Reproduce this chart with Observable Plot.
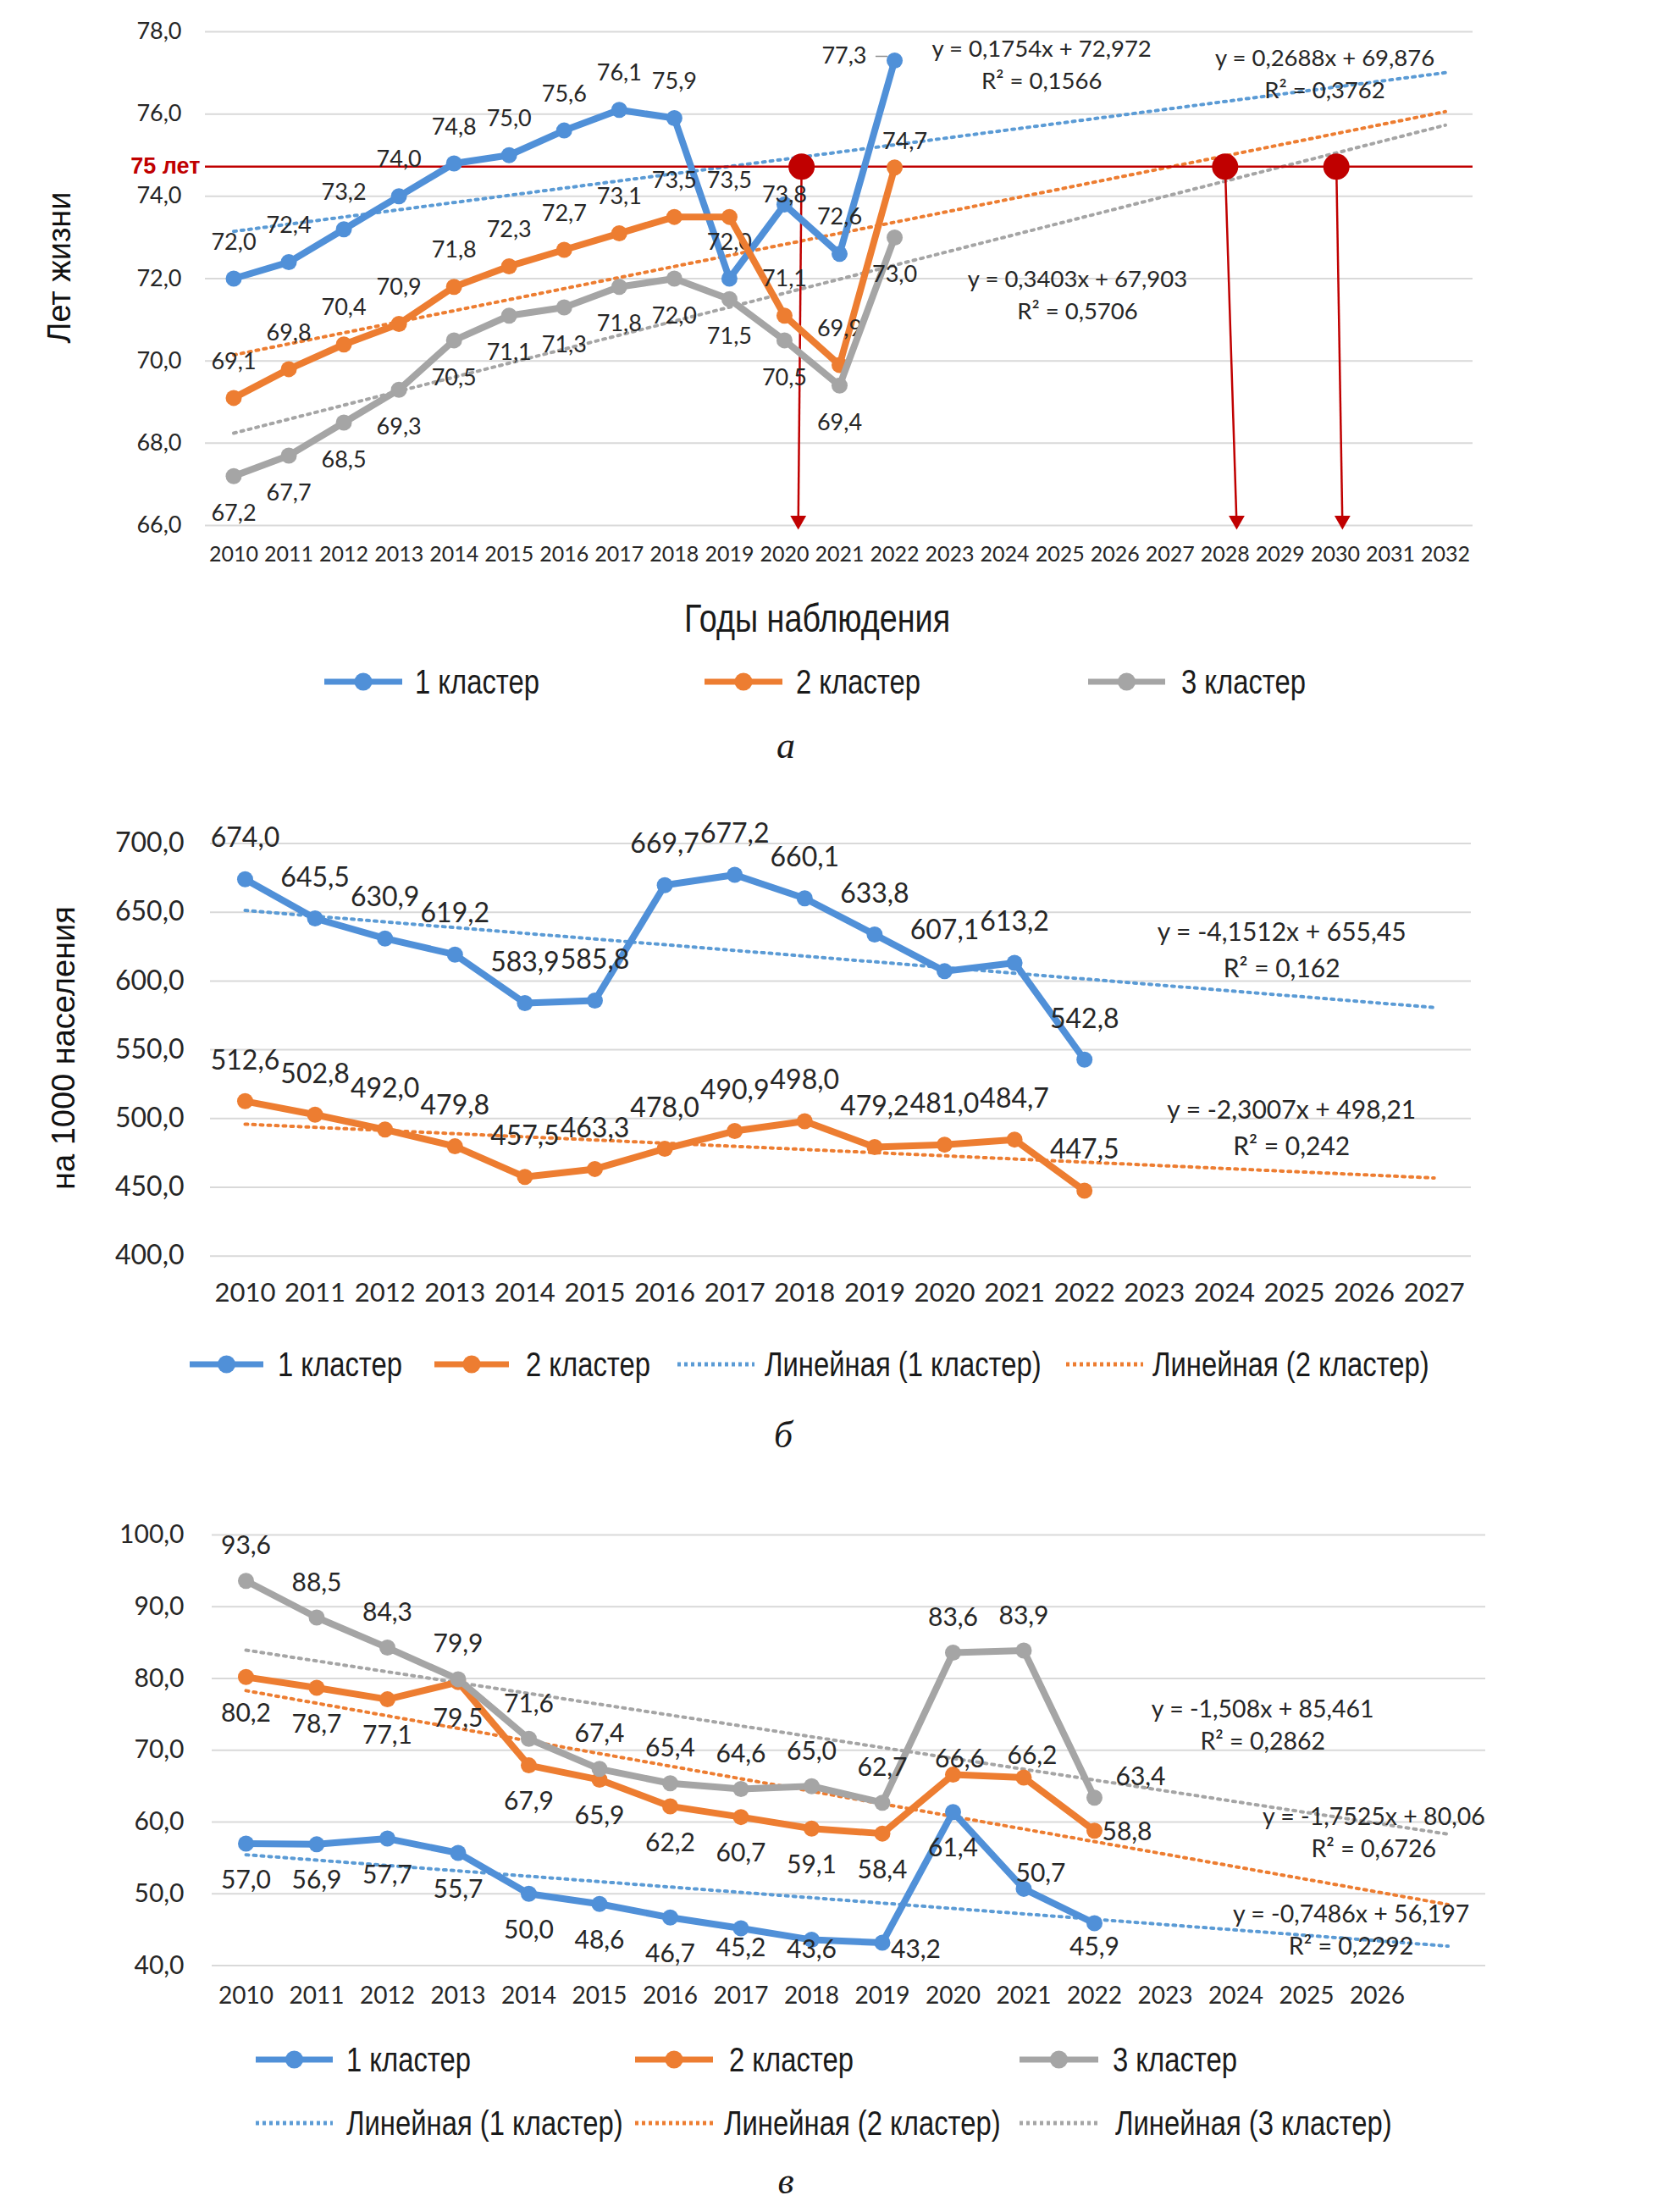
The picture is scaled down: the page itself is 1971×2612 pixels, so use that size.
<!DOCTYPE html>
<html><head><meta charset="utf-8">
<script src="https://cdn.jsdelivr.net/npm/d3@7"></script>
<script src="https://cdn.jsdelivr.net/npm/@observablehq/plot@0.6"></script>
<style>
html,body{margin:0;padding:0;background:#fff;}
#page{position:relative;width:1971px;height:2612px;overflow:hidden;background:#fff;}
.narrow{font-family:"Liberation Sans",Arial,sans-serif;color:#1a1a1a;white-space:nowrap;}
.letter{font-family:"Liberation Serif","DejaVu Serif",serif;font-style:italic;font-size:44px;color:#1a1a1a;}
.c{position:absolute;transform:translate(-50%,-50%);white-space:nowrap;}
.c.narrow{transform:translate(-50%,-50%) scaleX(0.82);}
.l{position:absolute;transform:translateY(-50%) scaleX(0.82);transform-origin:left center;white-space:nowrap;}
</style></head><body><div id="page"></div>
<script>
// ---------- DATA ----------
const years = [2010,2011,2012,2013,2014,2015,2016,2017,2018,2019,2020,2021,2022];
const seriesNames = ["1 кластер","2 кластер","3 кластер"];

// panel а: life expectancy
const lifeC1 = [72.0,72.4,73.2,74.0,74.8,75.0,75.6,76.1,75.9,72.0,73.8,72.6,77.3];
const lifeC2 = [69.1,69.8,70.4,70.9,71.8,72.3,72.7,73.1,73.5,73.5,71.1,69.9,74.7];
const lifeC3 = [67.2,67.7,68.5,69.3,70.5,71.1,71.3,71.8,72.0,71.5,70.5,69.4,73.0];
const trendSlopeA = [0.1754,0.2688,0.3403];
const trendInterceptA = [72.972,69.876,67.903];
const trendR2A = [0.1566,0.3762,0.5706];
const xTicksA = [2010,2011,2012,2013,2014,2015,2016,2017,2018,2019,2020,2021,2022,2023,2024,2025,2026,2027,2028,2029,2030,2031,2032];
const yTicksA = [66,68,70,72,74,76,78];
const thresholdA = 74.72;          // "75 лет" line as drawn
const thresholdLabel = "75 лет";
const crossYears = [2020.31,2028.0,2030.02];
const arrowTipYears = [2020.25,2028.21,2030.13];
const eqPosA = [[2024.67,77.57],[2029.81,77.34],[2025.32,71.97]];

// panel б: per 1000 population
const morbC1 = [674.0,645.5,630.9,619.2,583.9,585.8,669.7,677.2,660.1,633.8,607.1,613.2,542.8];
const morbC2 = [512.6,502.8,492.0,479.8,457.5,463.3,478.0,490.9,498.0,479.2,481.0,484.7,447.5];
const trendSlopeB = [-4.1512,-2.3007];
const trendInterceptB = [655.45,498.21];
const trendR2B = [0.162,0.242];
const xTicksB = [2010,2011,2012,2013,2014,2015,2016,2017,2018,2019,2020,2021,2022,2023,2024,2025,2026,2027];
const yTicksB = [400,450,500,550,600,650,700];
const eqPosB = [[2024.82,635.2],[2024.96,505.7]];

// panel в
const valC1 = [57.0,56.9,57.7,55.7,50.0,48.6,46.7,45.2,43.6,43.2,61.4,50.7,45.9];
const valC2 = [80.2,78.7,77.1,79.5,67.9,65.9,62.2,60.7,59.1,58.4,66.6,66.2,58.8];
const valC3 = [93.6,88.5,84.3,79.9,71.6,67.4,65.4,64.6,65.0,62.7,83.6,83.9,63.4];
const trendSlopeC = [-0.7486,-1.7525,-1.508];
const trendInterceptC = [56.197,80.06,85.461];
const trendR2C = [0.2292,0.6726,0.2862];
const xTicksC = [2010,2011,2012,2013,2014,2015,2016,2017,2018,2019,2020,2021,2022,2023,2024,2025,2026];
const yTicksC = [40,50,60,70,80,90,100];
const eqPosC = [[2025.63,47.14],[2025.95,60.71],[2024.38,75.7]];

// ---------- STYLE ----------
const COLORS = ["#5090D8","#ED7D31","#A5A5A5"];
const TREND = ["#5B9BD5","#ED7D31","#A5A5A5"];
const RED = "#C00000";
const TXT = "#262626";
const GRID = "#d9d9d9";
const NUMFONT = "Lato, 'Open Sans', sans-serif";
const comma = v => String(v).replace(".", ",");
const fmt1 = v => v.toFixed(1).replace(".", ",");

const page = document.getElementById("page");
function put(node, top, left) {
  const d = document.createElement("div");
  d.style.position = "absolute"; d.style.top = top + "px"; d.style.left = (left||0) + "px";
  d.appendChild(node); page.appendChild(d);
}
function html(cls, text, x, y, style) {
  const d = document.createElement("div");
  d.className = cls; d.textContent = text;
  d.style.left = x + "px"; d.style.top = y + "px";
  Object.assign(d.style, style || {});
  page.appendChild(d);
}

function seriesMarks(values, color, placements, offsets, fontSize) {
  const rows = years.map((year, i) => ({year, value: values[i], code: placements[i]}));
  const marks = [
    Plot.line(rows, {x: "year", y: "value", stroke: color, strokeWidth: 8, strokeLinejoin: "round", strokeLinecap: "round"}),
    Plot.dot(rows, {x: "year", y: "value", r: 9.5, fill: color})
  ];
  for (const code of new Set(placements)) {
    const o = offsets[code];
    marks.push(Plot.text(rows.filter(r => r.code === code), {
      x: "year", y: "value", text: d => fmt1(d.value), dx: o[0], dy: o[1],
      textAnchor: o[2] || "middle", fill: TXT, fontSize, fontFamily: NUMFONT
    }));
  }
  return marks;
}
function trendMark(slope, intercept, endYear, color) {
  const pts = [years[0], endYear].map(yr => ({year: yr, value: slope * (yr - 2009) + intercept}));
  return Plot.line(pts, {x: "year", y: "value", stroke: color, strokeWidth: 4, strokeDasharray: "3 6"});
}
function eqMarks(pos, slopes, intercepts, r2s, fontSize, gap) {
  const rows = pos.map((p, i) => ({x: p[0], y: p[1], eq: `y = ${comma(slopes[i])}x + ${comma(intercepts[i])}`, r2: `R² = ${comma(r2s[i])}`}));
  return [
    Plot.text(rows, {x: "x", y: "y", text: "eq", fill: TXT, fontSize, fontFamily: NUMFONT}),
    Plot.text(rows, {x: "x", y: "y", text: "r2", dy: gap, fill: TXT, fontSize, fontFamily: NUMFONT})
  ];
}
function axes(xTicks, yTicks, fsX, fsY, padX, padY) {
  return [
    Plot.gridY(yTicks, {stroke: GRID, strokeOpacity: 1, strokeWidth: 2}),
    Plot.axisY(yTicks, {tickSize: 0, tickPadding: padY, tickFormat: fmt1, label: null, fontSize: fsY, fontFamily: NUMFONT, fill: TXT}),
    Plot.axisX(xTicks, {tickSize: 0, tickPadding: padX, tickFormat: d => String(d), label: null, fontSize: fsX, fontFamily: NUMFONT, fill: TXT})
  ];
}

// ---------- PANEL а ----------
const offA = {t: [0,-43], b: [0,44], t2: [0,-11], tr: [12,-30], l: [-33,-5,"end"]};
const plA = [
  ["t","t","t","t","t","t","t","t","t","t","t2","t","l"],
  ["t","t","t","t","t","t","t","t","t","t","t","t","tr"],
  ["b","b","b","b","b","b","b","b","b","b","b","b","b"]
];
const lifeSeries = [lifeC1, lifeC2, lifeC3];
const arrowIdx = crossYears.map((_, i) => i);
const chartA = Plot.plot({
  width: 1971, height: 680, marginTop: 37, marginBottom: 60, marginLeft: 242, marginRight: 232,
  x: {type: "linear", domain: [2009.485, 2032.5]},
  y: {domain: [66, 78]},
  style: {fontFamily: NUMFONT, fontSize: "25px", color: TXT, background: "transparent"},
  marks: [
    ...axes(xTicksA, yTicksA, 25, 27, 25, 28),
    ...trendSlopeA.map((s, i) => trendMark(s, trendInterceptA[i], 2032, TREND[i])),
    Plot.ruleY([thresholdA], {stroke: RED, strokeWidth: 2.5}),
    Plot.text([thresholdLabel], {frameAnchor: "left", y: () => thresholdA, text: d => d, dx: -6, textAnchor: "end", fill: RED, fontWeight: "bold", fontSize: 27, fontFamily: "'Liberation Sans', Arial, sans-serif"}),
    Plot.link(arrowIdx, {x1: i => crossYears[i], y1: () => thresholdA, x2: i => arrowTipYears[i], y2: () => 66, stroke: RED, strokeWidth: 2.5}),
    Plot.dot(arrowIdx, {x: i => arrowTipYears[i], y: () => 66, symbol: "triangle", rotate: 180, r: 7, fill: RED, dy: -6}),
    ...lifeSeries.flatMap((v, i) => seriesMarks(v, COLORS[i], plA[i], offA, 27)),
    Plot.ruleY([{year: years[12], value: lifeC1[12]}], {y: "value", x1: d => d.year - 0.34, x2: d => d.year - 0.12, dy: -5, stroke: "#8c8c8c", strokeWidth: 1.5}),
    Plot.dot(arrowIdx, {x: i => crossYears[i], y: () => thresholdA, r: 15.5, fill: RED}),
    ...eqMarks(eqPosA, trendSlopeA, trendInterceptA, trendR2A, 27.5, 38),
    Plot.text(["Лет жизни"], {frameAnchor: "left", dx: -172, dy: -13, rotate: -90, text: d => d, fontSize: 38, fontFamily: "'Liberation Sans', Arial, sans-serif", fill: "#111", textAnchor: "middle"})
  ]
});
put(chartA, 0, 0);
html("c narrow", "Годы наблюдения", 965, 730, {fontSize: "46px"});

function legendSwatch(color, dotted, w) {
  const ns = "http://www.w3.org/2000/svg";
  const s = document.createElementNS(ns, "svg");
  s.setAttribute("width", w); s.setAttribute("height", 24);
  s.innerHTML = dotted
    ? `<line x1="0" x2="${w}" y1="12" y2="12" stroke="${color}" stroke-width="5" stroke-dasharray="4 4"/>`
    : `<line x1="0" x2="${w}" y1="12" y2="12" stroke="${color}" stroke-width="7"/><circle cx="${w/2}" cy="12" r="10.5" fill="${color}"/>`;
  return s;
}
function legendItem(x0, x1, textX, y, color, dotted, text, fs) {
  const sw = legendSwatch(color, dotted, x1 - x0);
  const d = document.createElement("div");
  d.style.position = "absolute"; d.style.left = x0 + "px"; d.style.top = (y - 12) + "px";
  d.appendChild(sw); page.appendChild(d);
  html("l narrow", text, textX, y, {fontSize: fs + "px"});
}
legendItem(383, 475, 490, 805, COLORS[0], false, seriesNames[0], 40);
legendItem(832, 924, 940, 805, COLORS[1], false, seriesNames[1], 40);
legendItem(1285, 1376, 1395, 805, COLORS[2], false, seriesNames[2], 40);
html("c letter", "а", 928, 880);

// ---------- PANEL б ----------
const offB = {t: [0,-48]};
const allT = years.map(() => "t");
const chartB = Plot.plot({
  width: 1971, height: 620, marginTop: 55.5, marginBottom: 77.3, marginLeft: 248, marginRight: 234,
  x: {type: "linear", domain: [2009.504, 2027.53]},
  y: {domain: [400, 700]},
  style: {fontFamily: NUMFONT, fontSize: "30px", color: TXT, background: "transparent"},
  marks: [
    ...axes(xTicksB, yTicksB, 31, 32, 32, 31),
    ...trendSlopeB.map((s, i) => trendMark(s, trendInterceptB[i], 2027, TREND[i])),
    ...[morbC1, morbC2].flatMap((v, i) => seriesMarks(v, COLORS[i], allT, offB, 32)),
    ...eqMarks(eqPosB, trendSlopeB, trendInterceptB, trendR2B, 30, 43),
    Plot.text(["на 1000 населения"], {frameAnchor: "left", dx: -173, dy: -2, rotate: -90, text: d => d, fontSize: 38, fontFamily: "'Liberation Sans', Arial, sans-serif", fill: "#111", textAnchor: "middle"})
  ]
});
put(chartB, 940, 0);
legendItem(224, 311, 328, 1611, COLORS[0], false, seriesNames[0], 40);
legendItem(513, 601, 621, 1611, COLORS[1], false, seriesNames[1], 40);
legendItem(800, 891, 903, 1611, TREND[0], true, "Линейная (1 кластер)", 40);
legendItem(1259, 1350, 1361, 1611, TREND[1], true, "Линейная (2 кластер)", 40);
html("c letter", "б", 925, 1694);

// ---------- PANEL в ----------
const offC = {t: [0,-41], b: [0,43], r63: [25,-24,"start"], t66a: [8,-18], t66b: [10,-26], r58: [9,2,"start"],
              b45: [0,23], b43: [0,12], r43: [10,8,"start"], tr50: [20,-18], b459: [0,28]};
const plC = [
  ["b","b","b","b","b","b","b","b45","b43","r43","b","tr50","b459"],
  ["b","b","b","b","b","b","b","b","b","b","t66a","t66b","r58"],
  ["t","t","t","t","t","t","t","t","t","t","t","t","r63"]
];
const chartC = Plot.plot({
  width: 1971, height: 640, marginTop: 62, marginBottom: 69.4, marginLeft: 250, marginRight: 217,
  x: {type: "linear", domain: [2009.521, 2027.533]},
  y: {domain: [40, 100]},
  style: {fontFamily: NUMFONT, fontSize: "28px", color: TXT, background: "transparent"},
  marks: [
    ...axes(xTicksC, yTicksC, 28, 30, 25, 33),
    ...trendSlopeC.map((s, i) => trendMark(s, trendInterceptC[i], 2027, TREND[i])),
    ...[valC1, valC2, valC3].flatMap((v, i) => seriesMarks(v, COLORS[i], plC[i], offC, 30)),
    ...eqMarks(eqPosC, trendSlopeC, trendInterceptC, trendR2C, 28.5, 38)
  ]
});
put(chartC, 1750, 0);
legendItem(302, 393, 409, 2432, COLORS[0], false, seriesNames[0], 40);
legendItem(750, 842, 861, 2432, COLORS[1], false, seriesNames[1], 40);
legendItem(1204, 1297, 1314, 2432, COLORS[2], false, seriesNames[2], 40);
legendItem(302, 393, 409, 2507, TREND[0], true, "Линейная (1 кластер)", 40);
legendItem(750, 842, 855, 2507, TREND[1], true, "Линейная (2 кластер)", 40);
legendItem(1204, 1297, 1317, 2507, TREND[2], true, "Линейная (3 кластер)", 40);
html("c letter", "в", 928, 2575);
</script></body></html>
